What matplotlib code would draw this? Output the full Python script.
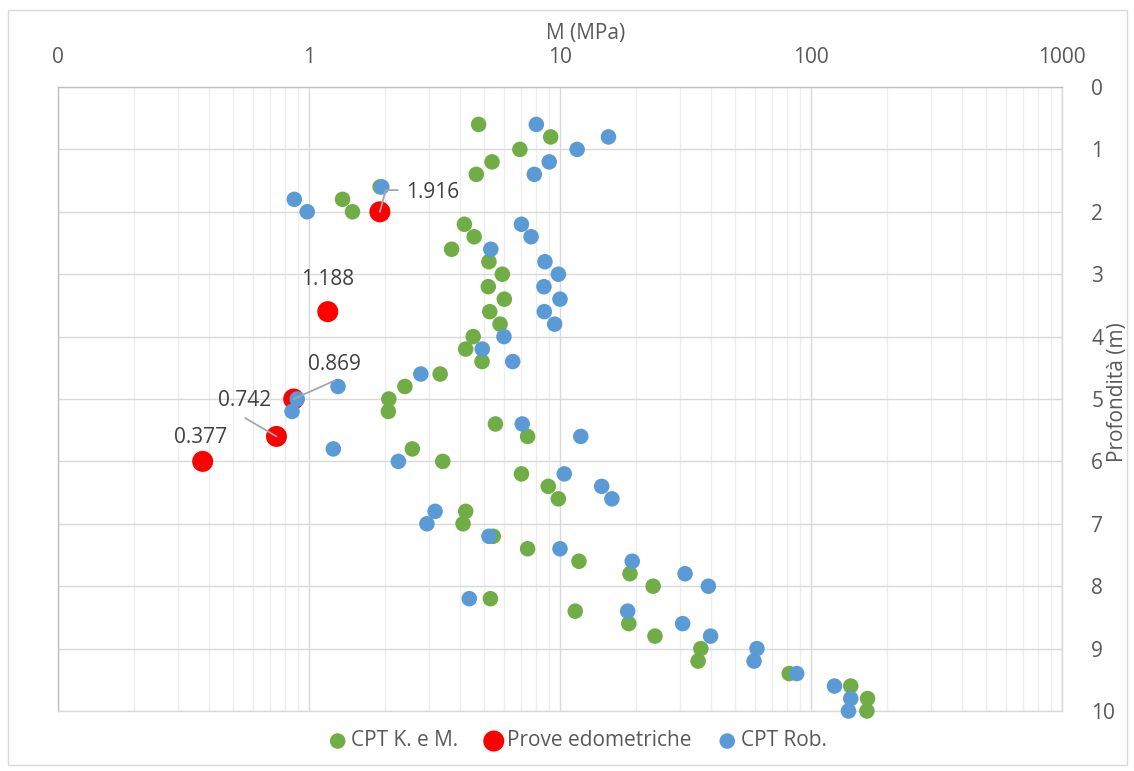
import matplotlib
matplotlib.use("Agg")
import matplotlib.pyplot as plt
from matplotlib.ticker import FixedLocator, NullFormatter
from matplotlib.patches import Rectangle

plt.rcParams['font.family'] = ['Open Sans', 'DejaVu Sans']

# Depth of each CPT reading (m)
depth_cpt = [0.6, 0.8, 1.0, 1.2, 1.4, 1.6, 1.8, 2.0, 2.2, 2.4, 2.6, 2.8, 3.0, 3.2,
             3.4, 3.6, 3.8, 4.0, 4.2, 4.4, 4.6, 4.8, 5.0, 5.2, 5.4, 5.6, 5.8, 6.0,
             6.2, 6.4, 6.6, 6.8, 7.0, 7.2, 7.4, 7.6, 7.8, 8.0, 8.2, 8.4, 8.6, 8.8,
             9.0, 9.2, 9.4, 9.6, 9.8, 10.0]

# Oedometric modulus M (MPa) from CPT, Kulhawy & Mayne
m_km = [4.74, 9.18, 6.92, 5.36, 4.64, 1.92, 1.36, 1.49, 4.16, 4.55, 3.70, 5.21,
        5.89, 5.18, 6.00, 5.25, 5.77, 4.51, 4.21, 4.89, 3.33, 2.41, 2.08, 2.07,
        5.53, 7.43, 2.58, 3.41, 7.02, 8.98, 9.85, 4.21, 4.11, 5.42, 7.43, 11.9,
        19.0, 23.5, 5.28, 11.5, 18.8, 23.9, 36.4, 35.5, 81.9, 144, 168, 167]

# Oedometric modulus M (MPa) from CPT, Robertson
m_rob = [8.05, 15.6, 11.7, 9.06, 7.90, 1.95, 0.874, 0.984, 7.02, 7.67, 5.30, 8.71,
         9.85, 8.63, 10.0, 8.66, 9.52, 5.98, 4.90, 6.48, 2.79, 1.305, 0.898, 0.856,
         7.07, 12.1, 1.25, 2.27, 10.4, 14.66, 16.1, 3.18, 2.95, 5.21, 10.0, 19.4,
         31.5, 39.0, 4.35, 18.6, 30.8, 39.8, 60.9, 59.3, 87.7, 124, 144, 141]

# Laboratory oedometer tests
depth_edo = [2.0, 3.6, 5.0, 5.6, 6.0]
m_edo = [1.916, 1.188, 0.869, 0.742, 0.377]

x_ticks = [0.1, 1, 10, 100, 1000]
x_tick_labels = ["0", "1", "10", "100", "1000"]
y_ticks = list(range(0, 11))

GREEN = "#70AD47"
BLUE = "#5B9BD5"
RED = "#FF0000"
TXT = "#595959"
LBL = "#404040"

W, H = 1134, 771
fig = plt.figure(figsize=(W / 100, H / 100), dpi=100)
ax = fig.add_axes([58 / W, 1 - 711 / H, (1062 - 58) / W, (711 - 87) / H])

ax.set_xscale("log")
ax.set_xlim(0.1, 1000)
ax.set_ylim(10, 0)

# grid
minor = [m * 10.0 ** e for e in range(-1, 3) for m in range(2, 10)]
ax.xaxis.set_major_locator(FixedLocator(x_ticks))
ax.xaxis.set_minor_locator(FixedLocator(minor))
ax.xaxis.set_minor_formatter(NullFormatter())
ax.set_xticklabels(x_tick_labels)
ax.set_yticks(y_ticks)
ax.grid(True, which="major", axis="both", color="#D9D9D9", linewidth=1.0, zorder=0)
ax.grid(True, which="minor", axis="x", color="#EDEDED", linewidth=1.0, zorder=0)
ax.set_axisbelow(True)

ax.xaxis.tick_top()
ax.yaxis.tick_right()
ax.tick_params(axis="both", which="both", length=0, labelsize=15, colors=TXT)
ax.tick_params(axis="x", pad=14)
for lab in ax.get_yticklabels():
    lab.set_horizontalalignment("left")
ax.tick_params(axis="y", pad=21)

for side in ["top", "left"]:
    ax.spines[side].set_color("#BFBFBF")
for side in ["right", "bottom"]:
    ax.spines[side].set_color("#D9D9D9")
for s in ax.spines.values():
    s.set_linewidth(1.0)

sc_km = ax.scatter(m_km, depth_cpt, s=125, color=GREEN, edgecolors="none",
                   zorder=3, label="CPT K. e M.", clip_on=False)
sc_edo = ax.scatter(m_edo, depth_edo, s=229, color=RED, edgecolors="none",
                    zorder=4, label="Prove edometriche", clip_on=False)
sc_rob = ax.scatter(m_rob, depth_cpt, s=125, color=BLUE, edgecolors="none",
                    zorder=5, label="CPT Rob.", clip_on=False)

# value labels of the oedometer tests (offsets in pixels)
label_pos = [(26, 19.7, "left"), (0, 31.7, "center"), (40.4, 35, "center"),
             (-32.3, 35.7, "center"), (-2, 23.5, "center")]
for m, d, (dx, dy, ha) in zip(m_edo, depth_edo, label_pos):
    ax.annotate(f"{m:.3f}", xy=(m, d), xytext=(dx, dy), textcoords="offset pixels",
                ha=ha, va="center", fontsize=15, color=LBL, zorder=6)

leader = dict(arrowstyle="-", color="#A6A6A6", lw=1.3, shrinkA=0, shrinkB=0)
ax.annotate("", xy=(m_edo[0], depth_edo[0]), xytext=(18, 21.7),
            textcoords="offset pixels",
            arrowprops=dict(leader, connectionstyle="angle,angleA=0,angleB=75,rad=0"),
            zorder=6)
ax.annotate("", xy=(m_edo[2], depth_edo[2]), xytext=(40.7, 18.3),
            textcoords="offset pixels", arrowprops=leader, zorder=6)
ax.annotate("", xy=(m_edo[3], depth_edo[3]), xytext=(-31.3, 18.4),
            textcoords="offset pixels", arrowprops=leader, zorder=6)

fig.text(586 / W, 1 - 33 / H, "M (MPa)", ha="center", va="center",
         fontsize=15, color=TXT)
fig.text(1118 / W, 1 - 392 / H, "Profondità (m)", ha="center", va="center",
         rotation=90, fontsize=15, color=TXT)

fig.legend(handles=[sc_km, sc_edo, sc_rob], loc="center",
           bbox_to_anchor=(578 / W, 1 - 741 / H), ncol=3, frameon=False,
           fontsize=15, labelcolor=TXT, handlelength=0.8, handletextpad=0.25,
           columnspacing=1.3, scatterpoints=1)

fig.patches.append(Rectangle((8 / W, 1 - 765 / H), (1127 - 8) / W, (765 - 10) / H,
                             transform=fig.transFigure, fill=False,
                             edgecolor="#D9D9D9", linewidth=1.0))

fig.savefig("out.png", dpi=100)
